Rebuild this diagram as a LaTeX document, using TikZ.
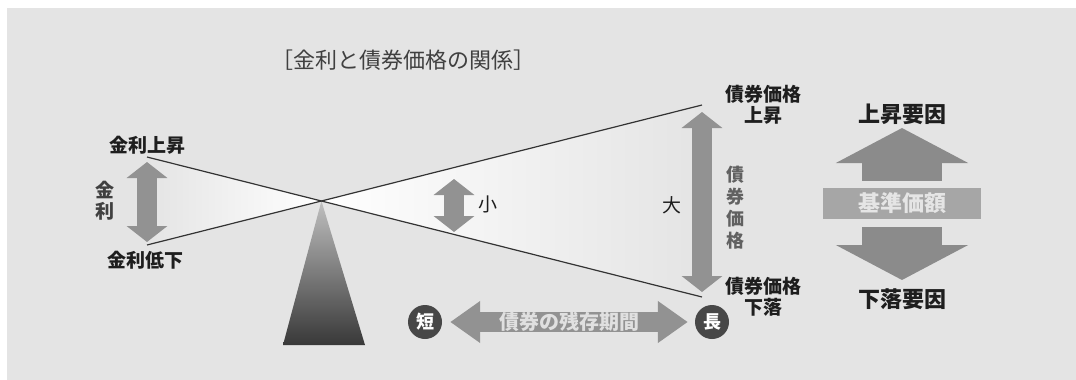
\documentclass[tikz,border=0pt]{standalone}
\usepackage{fontspec}
\setmainfont{Noto Sans CJK JP}
\usetikzlibrary{arrows.meta}
\definecolor{bg}{HTML}{E4E4E4}
\definecolor{arrgray}{HTML}{929292}
\definecolor{boxgray}{HTML}{A6A6A6}
\definecolor{ink}{HTML}{1E1E1E}
\definecolor{dotgray}{HTML}{474747}
\begin{document}
\begin{tikzpicture}[x=1pt,y=-1pt,
  lbl/.style={font=\fontsize{19}{21}\selectfont\bfseries,text=ink,inner sep=0pt,align=center},
  plain/.style={font=\fontsize{19}{22}\selectfont,text=ink,inner sep=0pt,align=center},
  beam/.style={draw=black!80,line width=1.2pt},
  garrow/.style={draw=arrgray,line width=20pt,{Triangle[width=40pt,length=16pt]}-{Triangle[width=40pt,length=16pt]}},
  blockup/.style={draw=arrgray!95!black,line width=80pt,-{Triangle[width=131pt,length=35pt]}},
  dot/.style={circle,fill=dotgray,minimum size=34pt,inner sep=0pt,text=white,font=\fontsize{18}{18}\selectfont\bfseries}]
\fill[white] (0,0) rectangle (1076,380);
\fill[bg] (7,8) rectangle (1076,380);
\useasboundingbox (0,0) rectangle (1076,380);
\node[font=\fontsize{22}{24}\selectfont,text=black!75,inner sep=0pt] (title) at (403,60) {［金利と債券価格の関係］};
\coordinate (LT) at (147,157);
\coordinate (LB) at (147,245);
\coordinate (RT) at (702,105);
\coordinate (RB) at (702,297);
\coordinate (PV) at (intersection of LT--RB and LB--RT);
\shade[left color=bg,right color=white] (LT) -- (PV) -- (LB) -- cycle;
\shade[left color=white,right color=bg] (PV) -- (RT) -- (RB) -- cycle;
\shade[top color=black!25,bottom color=black!78] (PV) -- (283,345) -- (365,345) -- cycle;
\draw[beam] (LT) -- (RB);
\draw[beam] (LB) -- (RT);
\coordinate (KU) at (147,162);\coordinate (KD) at (147,242);
\draw[garrow] (KU) -- (KD);
\coordinate (SU) at (454,179);\coordinate (SD) at (454,232);
\draw[garrow] (SU) -- (SD);
\coordinate (BU) at (702,112);\coordinate (BD) at (702,292);
\draw[garrow] (BU) -- (BD);
\node[lbl] (rateup) at (147,145) {金利上昇};
\node[lbl] (ratedown) at (145,260) {金利低下};
\node[lbl,text=black!75] (rate) at (105,201) {金\\利};
\node[plain] (small) at (488,204) {小};
\node[plain] (large) at (672,205) {大};
\node[lbl,font=\fontsize{18}{22}\selectfont\bfseries,text=black!62] (price) at (735,208) {債\\券\\価\\格};
\node[lbl] (priceup) at (763,105) {債券価格\\上昇};
\node[lbl] (pricedown) at (763,297) {債券価格\\下落};
\node[fill=boxgray,minimum width=158pt,minimum height=31pt,inner sep=0pt,
  text=black!10,font=\fontsize{22}{22}\selectfont\bfseries] (nav) at (902,203.5) {基準価額};
\coordinate (UT) at (902,128);\coordinate (DT) at (902,280);
\draw[blockup] ([yshift=7pt]nav.north) -- (UT);
\draw[blockup] ([yshift=-8pt]nav.south) -- (DT);
\node[lbl,font=\fontsize{22}{22}\selectfont\bfseries] (upf) at (902,114) {上昇要因};
\node[lbl,font=\fontsize{22}{22}\selectfont\bfseries] (downf) at (902,299) {下落要因};
\node[dot] (short) at (425,322) {短};
\node[dot] (long) at (712,322) {長};
\draw[garrow,{Triangle[width=40pt,length=30pt]}-{Triangle[width=40pt,length=30pt]}]
  ([xshift=8pt]short.east) -- ([xshift=-7pt]long.west)
  node[midway,text=black!12,font=\fontsize{20}{20}\selectfont\bfseries] (term) {債券の残存期間};
\end{tikzpicture}
\end{document}
